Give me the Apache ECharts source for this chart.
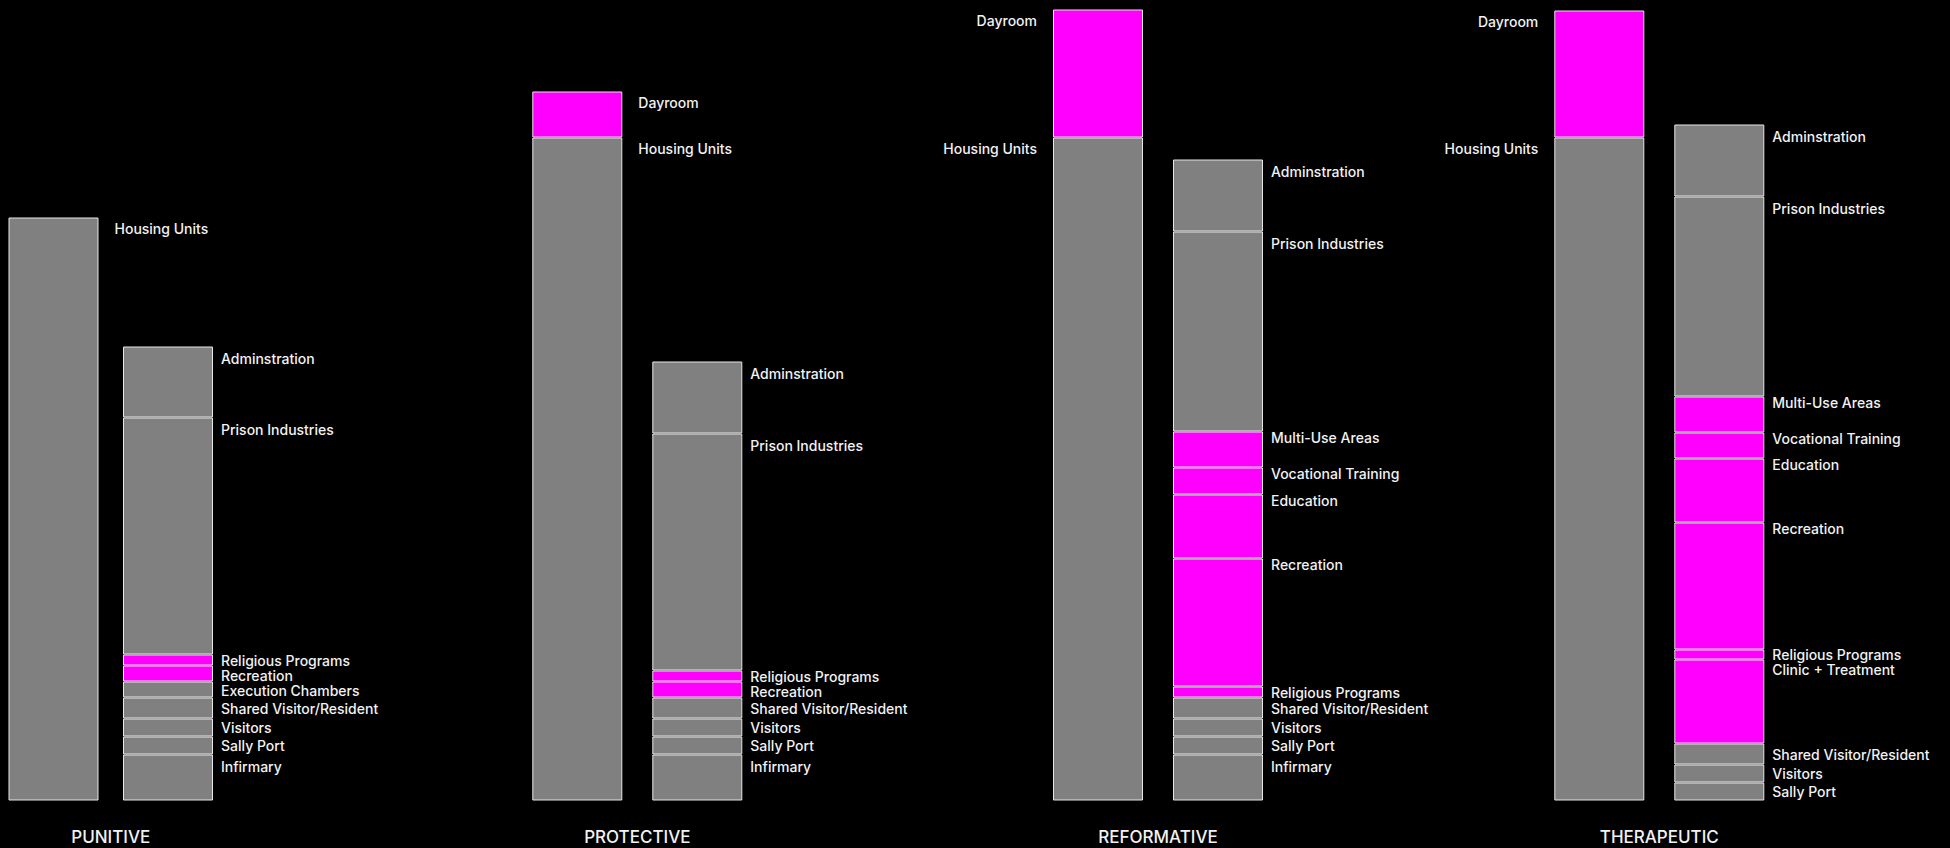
<!DOCTYPE html>
<html>
<head>
<meta charset="utf-8">
<script src="https://cdn.jsdelivr.net/npm/echarts@6/dist/echarts.min.js"></script>
<style>
html,body{margin:0;padding:0;background:#000;}
#chart{width:1950px;height:848px;}
</style>
</head>
<body>
<div id="chart"></div>
<script>
// ---------------- DATA (relative floor area) ----------------
const archetypes = ['PUNITIVE', 'PROTECTIVE', 'REFORMATIVE', 'THERAPEUTIC'];
const columns = ['Residential', 'Support'];

const housingUnits = [583, 663, 663, 663];
const dayroom = [0, 46, 128, 127];

// support spaces, listed bottom to top
const punitiveSpaces = ['Infirmary', 'Sally Port', 'Visitors', 'Shared Visitor/Resident', 'Execution Chambers', 'Recreation', 'Religious Programs', 'Prison Industries', 'Adminstration'];
const punitiveValues = [46, 18, 18, 21, 16, 16, 11, 237, 71];

const protectiveSpaces = ['Infirmary', 'Sally Port', 'Visitors', 'Shared Visitor/Resident', 'Recreation', 'Religious Programs', 'Prison Industries', 'Adminstration'];
const protectiveValues = [46, 18, 18, 21, 16, 11, 237, 72];

const reformativeSpaces = ['Infirmary', 'Sally Port', 'Visitors', 'Shared Visitor/Resident', 'Religious Programs', 'Recreation', 'Education', 'Vocational Training', 'Multi-Use Areas', 'Prison Industries', 'Adminstration'];
const reformativeValues = [46, 18, 18, 21, 11, 128, 64, 27, 36, 200, 72];

const therapeuticSpaces = ['Sally Port', 'Visitors', 'Shared Visitor/Resident', 'Clinic + Treatment', 'Religious Programs', 'Recreation', 'Education', 'Vocational Training', 'Multi-Use Areas', 'Prison Industries', 'Adminstration'];
const therapeuticValues = [18, 18, 21, 84, 10, 127, 64, 26, 36, 200, 72];

// spaces drawn in the highlight colour
const programSpaces = ['Dayroom', 'Multi-Use Areas', 'Vocational Training', 'Education', 'Recreation', 'Religious Programs', 'Clinic + Treatment'];

// ---------------- LAYOUT / STYLE ----------------
const supportSpaces = [punitiveSpaces, protectiveSpaces, reformativeSpaces, therapeuticSpaces];
const supportValues = [punitiveValues, protectiveValues, reformativeValues, therapeuticValues];

const GRAY = '#808080';
const MAGENTA = '#ff00ff';
const BORDER = '#e6e6e6';
const TEXT = '#f2f2f2';
const FONT = 'Inter, "Noto Sans", sans-serif';

// category axes without boundary gap: first column centred at grid left, second at grid right
const gridLeft = [53.5, 577.3, 1098, 1599.3];
const gridWidth = [114.5, 120, 120, 120];
const gridTop = 0.5;
const gridBottom = 47.5;
const yMax = 800;
const barW = 90;
const housingLabelSide = ['right', 'right', 'left', 'left'];
const pxPerUnit = (848 - gridTop - gridBottom) / yMax;
const LABEL_STEP = 15;

function colorOf(name) {
  return programSpaces.indexOf(name) >= 0 ? MAGENTA : GRAY;
}

function makeLabel(side, gap, dy) {
  return {
    show: true,
    formatter: '{a}',
    position: side === 'right' ? ['100%', dy] : [0, dy],
    align: side === 'right' ? 'left' : 'right',
    verticalAlign: 'middle',
    offset: [side === 'right' ? gap : -gap, 0],
    color: TEXT,
    fontFamily: FONT,
    fontSize: 14,
    fontWeight: 500,
    lineHeight: 14
  };
}

// label drops within each segment (top-down), keeping neighbouring labels apart
function labelDrops(names, values) {
  const n = names.length;
  const drops = new Array(n);
  let cumTop = 0, prevCenter = -Infinity;
  for (let i = n - 1; i >= 0; i--) {
    const h = values[i] * pxPerUnit;
    const cap = colorOf(names[i]) === MAGENTA ? 6 : 12;
    let center = cumTop + Math.min(h / 2, cap);
    center = Math.max(center, prevCenter + LABEL_STEP);
    drops[i] = center - cumTop;
    prevCenter = center;
    cumTop += h;
  }
  return drops;
}

const grids = [], xAxes = [], yAxes = [], series = [];

archetypes.forEach(function (arch, g) {
  grids.push({
    left: gridLeft[g], width: gridWidth[g], top: gridTop, bottom: gridBottom,
    containLabel: false, outerBoundsMode: 'none'
  });
  xAxes.push({
    type: 'category', gridIndex: g, data: columns, boundaryGap: false,
    axisLine: { show: false }, axisTick: { show: false }, axisLabel: { show: false }, splitLine: { show: false },
    name: arch, nameLocation: 'middle', nameGap: 28,
    nameTextStyle: { color: TEXT, fontFamily: FONT, fontSize: 17, fontWeight: 500 }
  });
  yAxes.push({ type: 'value', gridIndex: g, min: 0, max: yMax, show: false, splitLine: { show: false } });

  const base = {
    type: 'bar', xAxisIndex: g, yAxisIndex: g, stack: 'col' + g, barWidth: barW, clip: false,
    silent: true, emphasis: { disabled: true }
  };

  const hNames = ['Housing Units'], hValues = [housingUnits[g]];
  if (dayroom[g] > 0) { hNames.push('Dayroom'); hValues.push(dayroom[g]); }
  hNames.forEach(function (name, i) {
    const h = hValues[i] * pxPerUnit;
    series.push(Object.assign({}, base, {
      name: name,
      data: [hValues[i], '-'],
      itemStyle: { color: colorOf(name), borderColor: BORDER, borderWidth: 1 },
      label: makeLabel(housingLabelSide[g], 16, Math.min(h / 2, 11))
    }));
  });

  const drops = labelDrops(supportSpaces[g], supportValues[g]);
  supportSpaces[g].forEach(function (name, i) {
    series.push(Object.assign({}, base, {
      name: name,
      data: ['-', supportValues[g][i]],
      itemStyle: { color: colorOf(name), borderColor: BORDER, borderWidth: 1 },
      label: makeLabel('right', 8, drops[i])
    }));
  });
});

const chart = echarts.init(document.getElementById('chart'), null, { renderer: 'svg' });
chart.setOption({
  backgroundColor: '#000000',
  animation: false,
  tooltip: { show: false },
  grid: grids,
  xAxis: xAxes,
  yAxis: yAxes,
  series: series
});
</script>
</body>
</html>
